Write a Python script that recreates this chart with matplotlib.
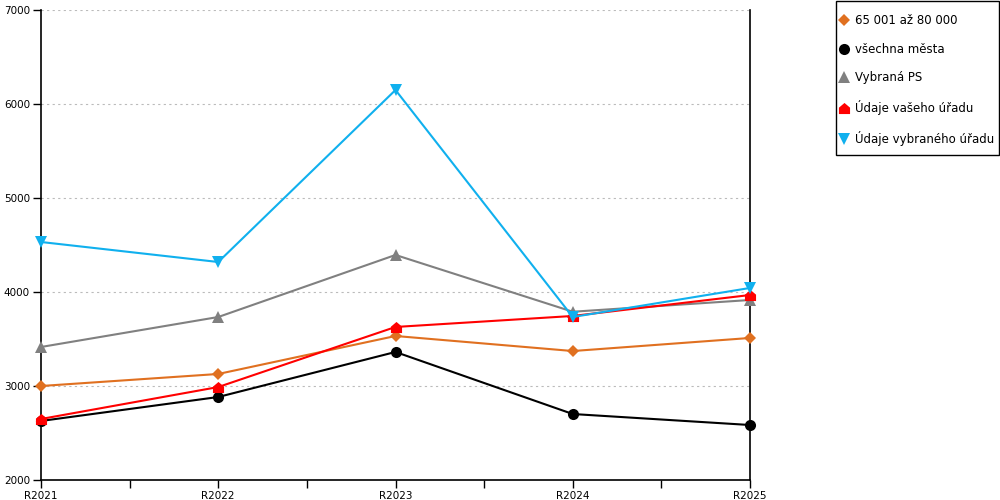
import matplotlib
matplotlib.use("Agg")
import matplotlib.pyplot as plt
from matplotlib.path import Path
from matplotlib.lines import Line2D
from matplotlib.patches import Rectangle

categories = ["R2021", "R2022", "R2023", "R2024", "R2025"]
s_65001 = [3000, 3128, 3532, 3372, 3511]
s_vsechna = [2628, 2883, 3362, 2702, 2585]
s_vybrana_ps = [3415, 3734, 4394, 3790, 3915]
s_vaseho = [2649, 2989, 3628, 3745, 3968]
s_vybraneho = [4532, 4319, 6149, 3734, 4043]

labels = ["65 001 až 80 000", "všechna města", "Vybraná PS",
          "Údaje vašeho úřadu", "Údaje vybraného úřadu"]
colors = ["#E07020", "#000000", "#808080", "#FF0000", "#10B0EE"]

house = Path([(-1, -1), (1, -1), (1, 0.15), (0, 1), (-1, 0.15), (-1, -1)],
             [Path.MOVETO, Path.LINETO, Path.LINETO, Path.LINETO, Path.LINETO, Path.CLOSEPOLY])
markers = ["D", "o", "^", house, "v"]
msizes = [6, 8, 8, 8, 8]

plt.rcParams['font.family'] = ['DejaVu Sans']
fig = plt.figure(figsize=(10, 5), dpi=100)
ax = fig.add_axes([0.041, 0.04, 0.709, 0.94])

x = list(range(len(categories)))
series = [s_65001, s_vsechna, s_vybrana_ps, s_vaseho, s_vybraneho]
handles = []
for s, lab, c, m, ms in zip(series, labels, colors, markers, msizes):
    ax.plot(x, s, color=c, lw=1.5, marker=m, markersize=ms, markeredgewidth=0,
            clip_on=False, zorder=3)
    handles.append(Line2D([], [], color=c, marker=m, markersize=ms, linestyle="none",
                          markeredgewidth=0, label=lab))

ax.set_xlim(0, 4)
ax.set_ylim(2000, 7000)
ax.set_yticks(range(2000, 7001, 1000))
ax.set_xticks(x)
ax.set_xticklabels(categories)
ax.set_xticks([0.5, 1.5, 2.5, 3.5], minor=True)
ax.tick_params(axis="both", which="both", direction="out", length=6, width=1,
               labelsize=7.5, pad=2, color="black")
for yv in range(3000, 7001, 1000):
    ax.axhline(yv, color="#bbbbbb", lw=0.8, ls=(0, (2, 3)), zorder=1)
ax.spines["top"].set_visible(False)
for sp in ["left", "right", "bottom"]:
    ax.spines[sp].set_linewidth(1.2)
    ax.spines[sp].set_color("black")

# legend frame drawn separately for exact padding
fig.patches.append(Rectangle((0.8355, 0.69), 0.163, 0.308, transform=fig.transFigure,
                             fill=False, edgecolor="black", linewidth=1.0))
leg = fig.legend(handles=handles, loc="upper left", bbox_to_anchor=(0.8407, 0.972),
                 frameon=False, fontsize=8.5,
                 handlelength=0.6, handletextpad=0.65, labelspacing=1.33,
                 borderpad=0, borderaxespad=0)

fig.savefig("out.png", dpi=100)
